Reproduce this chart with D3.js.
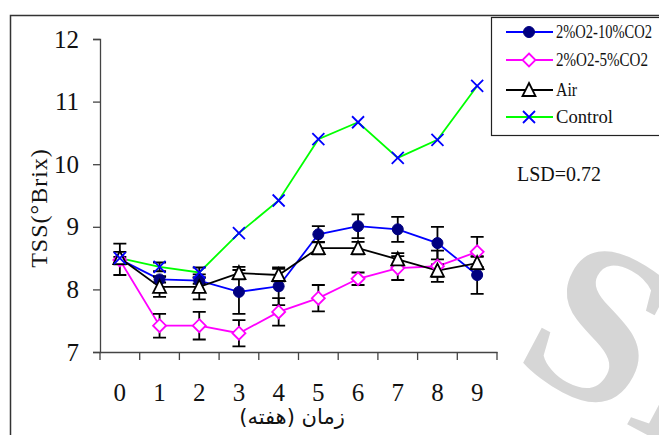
<!DOCTYPE html>
<html>
<head>
<meta charset="utf-8">
<script src="https://cdn.jsdelivr.net/npm/d3@7"></script>
<style>
  html, body { margin: 0; padding: 0; background: #fff; }
  svg { display: block; }
  .serif { font-family: "Liberation Serif", "Times New Roman", serif; }
</style>
</head>
<body>
<svg id="chart" width="659" height="435"></svg>
<script>
// weeks on the x axis
const weeks = [0, 1, 2, 3, 4, 5, 6, 7, 8, 9];
const yTicks = [7, 8, 9, 10, 11, 12];

// TSS values
const co2High = [8.48, 8.16, 8.14, 7.96, 8.05, 8.88, 9.01, 8.96, 8.74, 8.23];
const co2HighErr = [0.25, 0.05, 0.05, 0.35, 0.3, 0.13, 0.19, 0.2, 0.26, 0.3];
const co2Low = [8.47, 7.42, 7.42, 7.3, 7.64, 7.86, 8.17, 8.34, 8.37, 8.6];
const co2LowErr = [0.05, 0.19, 0.22, 0.21, 0.22, 0.21, 0.1, 0.19, 0.25, 0.24];
const air = [8.5, 8.04, 8.04, 8.26, 8.23, 8.66, 8.66, 8.48, 8.3, 8.42];
const airErr = [0.1, 0.16, 0.2, 0.1, 0.1, 0.1, 0.1, 0.1, 0.1, 0.1];
const control = [8.5, 8.36, 8.27, 8.9, 9.42, 10.4, 10.67, 10.1, 10.39, 11.25];
const controlErr = [0, 0.07, 0.08, 0, 0, 0, 0, 0, 0, 0];

const seriesNames = ["2%O2-10%CO2", "2%O2-5%CO2", "Air", "Control"];

const series = [
  { name: seriesNames[0], values: co2High, err: co2HighErr, line: "#0000ff", marker: "circle" },
  { name: seriesNames[1], values: co2Low, err: co2LowErr, line: "#ff00ff", marker: "diamond" },
  { name: seriesNames[2], values: air, err: airErr, line: "#000000", marker: "triangle" },
  { name: seriesNames[3], values: control, err: controlErr, line: "#00ff00", marker: "cross" }
];

const svg = d3.select("#chart");

// faint watermark behind everything
svg.append("text")
  .attr("class", "serif")
  .attr("transform", "translate(510,362) rotate(28)")
  .style("font-size", "225px")
  .style("font-weight", "bold")
  .attr("fill", "#d6d6d6")
  .text("SID");

// outer frame (only top and left edges are visible)
svg.append("path")
  .attr("d", "M10.5,435 V15.5 H659")
  .attr("fill", "none")
  .attr("stroke", "#333")
  .attr("stroke-width", 1.5);

const x = d3.scaleBand().domain(weeks).range([100, 497]);
const y = d3.scaleLinear().domain([7, 12]).range([352, 39]);
const cx = d => x(d) + x.bandwidth() / 2;

// y axis
const yAxis = svg.append("g")
  .attr("transform", "translate(100,0)")
  .call(d3.axisLeft(y).tickValues(yTicks).tickFormat(d3.format("d")).tickSize(7).tickPadding(14));
yAxis.attr("font-family", null);
yAxis.select(".domain").attr("stroke", "#444").attr("stroke-width", 1.3);
yAxis.selectAll(".tick line").attr("stroke", "#444").attr("stroke-width", 1.3);
yAxis.selectAll(".tick text")
  .attr("class", "serif").style("font-size", "25px").attr("fill", "#111");

// x axis: ticks sit between the categories
const xAxis = svg.append("g")
  .attr("transform", "translate(0,352)")
  .call(d3.axisBottom(x).tickSizeInner(0).tickSizeOuter(0).tickPadding(31));
xAxis.attr("font-family", null);
xAxis.select(".domain").attr("stroke", "#444").attr("stroke-width", 1.3);
xAxis.selectAll(".tick text")
  .attr("class", "serif").style("font-size", "25px").attr("fill", "#111");
xAxis.selectAll(".sep")
  .data(d3.range(weeks.length + 1))
  .join("line")
  .attr("class", "sep")
  .attr("x1", i => 100 + i * x.step())
  .attr("x2", i => 100 + i * x.step())
  .attr("y1", 0)
  .attr("y2", 8)
  .attr("stroke", "#444")
  .attr("stroke-width", 1.3);

// axis titles
svg.append("text")
  .attr("class", "serif")
  .attr("transform", "translate(47,208) rotate(-90)")
  .attr("text-anchor", "middle")
  .style("font-size", "24px")
  .style("letter-spacing", "1px")
  .attr("fill", "#111")
  .text("TSS(°Brix)");

svg.append("text")
  .attr("x", 292)
  .attr("y", 424)
  .attr("text-anchor", "middle")
  .style("font-family", "'DejaVu Sans', sans-serif")
  .style("font-size", "21px")
  .attr("fill", "#111")
  .text("زمان (هفته)");

svg.append("text")
  .attr("class", "serif")
  .attr("x", 517)
  .attr("y", 181)
  .attr("textLength", 84)
  .attr("lengthAdjust", "spacingAndGlyphs")
  .style("font-size", "22px")
  .attr("fill", "#111")
  .text("LSD=0.72");

// marker drawing
function drawMarker(g, type, px, py) {
  if (type === "circle") {
    g.append("circle").attr("cx", px).attr("cy", py).attr("r", 5.5)
      .attr("fill", "#000080").attr("stroke", "#000080");
  } else if (type === "diamond") {
    g.append("path")
      .attr("d", `M${px},${py - 6.5} L${px + 6.5},${py} L${px},${py + 6.5} L${px - 6.5},${py} Z`)
      .attr("fill", "#fff").attr("stroke", "#ff00ff").attr("stroke-width", 1.8);
  } else if (type === "triangle") {
    g.append("path")
      .attr("d", `M${px},${py - 7} L${px + 6.5},${py + 6} L${px - 6.5},${py + 6} Z`)
      .attr("fill", "#fff").attr("stroke", "#000").attr("stroke-width", 1.8);
  } else {
    g.append("path")
      .attr("d", `M${px - 6},${py - 6} L${px + 6},${py + 6} M${px + 6},${py - 6} L${px - 6},${py + 6}`)
      .attr("stroke", "#0000ff").attr("stroke-width", 1.8);
  }
}

const plot = svg.append("g");
const line = d3.line().x((d, i) => cx(weeks[i])).y(d => y(d));

series.forEach(s => {
  plot.append("path")
    .datum(s.values)
    .attr("d", line)
    .attr("fill", "none")
    .attr("stroke", s.line)
    .attr("stroke-width", 1.8);
});

// error bars
series.forEach(s => {
  const g = plot.append("g");
  s.values.forEach((v, i) => {
    const e = s.err[i];
    if (!e) return;
    const px = cx(weeks[i]);
    g.append("path")
      .attr("d", `M${px},${y(v + e)} V${y(v - e)} M${px - 6.5},${y(v + e)} H${px + 6.5} M${px - 6.5},${y(v - e)} H${px + 6.5}`)
      .attr("fill", "none")
      .attr("stroke", "#000")
      .attr("stroke-width", 1.8);
  });
});

series.forEach(s => {
  const g = plot.append("g");
  s.values.forEach((v, i) => drawMarker(g, s.marker, cx(weeks[i]), y(v)));
});

// legend
const legend = svg.append("g");
legend.append("rect")
  .attr("x", 491.5).attr("y", 17.5)
  .attr("width", 175).attr("height", 118)
  .attr("fill", "#fff").attr("stroke", "#222").attr("stroke-width", 1.2);

const legendRows = [32, 60, 90, 117];
const legendWidths = [96, 92, 21, 57];
series.forEach((s, i) => {
  const ly = legendRows[i];
  legend.append("line")
    .attr("x1", 506).attr("x2", 553).attr("y1", ly).attr("y2", ly)
    .attr("stroke", s.line).attr("stroke-width", 1.8);
  drawMarker(legend, s.marker, 529, ly);
  legend.append("text")
    .attr("class", "serif")
    .attr("x", 556).attr("y", ly + 6)
    .attr("textLength", legendWidths[i])
    .attr("lengthAdjust", "spacingAndGlyphs")
    .style("font-size", "19px")
    .attr("fill", "#111")
    .text(s.name);
});
</script>
</body>
</html>
